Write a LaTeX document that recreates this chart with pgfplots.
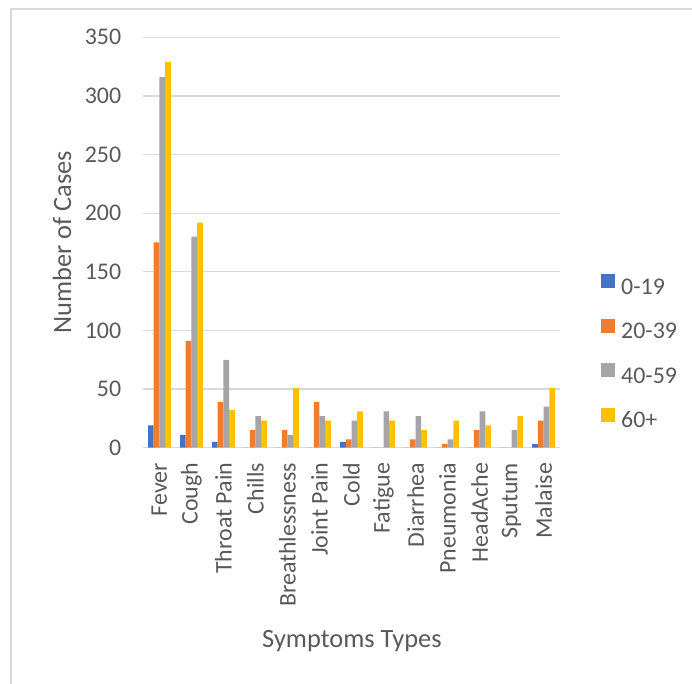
\documentclass[border=0pt]{standalone}
\usepackage{pgfplots}
\pgfplotsset{compat=1.18}
\usepackage{fontspec}
\setmainfont{Carlito}
\definecolor{cBlue}{HTML}{4472C4}
\definecolor{cOrange}{HTML}{ED7D31}
\definecolor{cGray}{HTML}{A5A5A5}
\definecolor{cYellow}{HTML}{FFC000}
\definecolor{gridc}{HTML}{D9D9D9}
\definecolor{txt}{HTML}{595959}
\begin{document}
\begin{tikzpicture}[x=1bp,y=1bp]
\path[use as bounding box] (0,0) rectangle (692,684);
\draw[color=gridc, line width=1.2bp] (11,0) -- (11,675) -- (692,675);
\begin{axis}[
  at={(143.4bp,236.3bp)}, anchor=south west,
  scale only axis, width=416.2bp, height=410.4bp,
  ybar=0pt, bar width=5.7bp,
  xmin=-0.5, xmax=12.5, ymin=0, ymax=350,
  ytick={0,50,...,350},
  xtick={0,...,12},
  xticklabels={Fever,Cough,Throat Pain,Chills,Breathlessness,Joint Pain,Cold,Fatigue,Diarrhea,Pneumonia,HeadAche,Sputum,Malaise},
  /pgf/number format/assume math mode=true,
  axis line style={draw=none},
  major tick length=0pt,
  tick style={draw=none},
  ymajorgrids, grid style={color=gridc, line width=1.3bp},
  yticklabel style={font=\fontsize{24}{28}\selectfont, color=txt, inner sep=0pt, anchor=east},
  yticklabel shift=22bp,
  xticklabel style={font=\fontsize{24}{28}\selectfont, color=txt, rotate=90, anchor=east, inner sep=0pt},
  xticklabel shift=15bp,
  ylabel={Number of Cases},
  xlabel={Symptoms Types},
  every axis y label/.style={at={(axis description cs:-0.1956,0.5)}, rotate=90, anchor=center, font=\fontsize{26.5}{30}\selectfont, color=txt},
  every axis x label/.style={at={(axis description cs:0.501,-0.471)}, anchor=center, font=\fontsize{26.5}{30}\selectfont, color=txt},
  legend style={at={(axis description cs:1.0995,0.2293)}, anchor=west, draw=none, fill=none, inner sep=0pt, font=\fontsize{24}{28}\selectfont, text=txt, row sep=19.8bp, nodes={inner sep=0pt, text height=16bp, text depth=5bp}},
  legend cell align=left,
  legend image code/.code={\fill[#1] (0bp,0.3bp) rectangle (14bp,14.3bp); \path (20bp,0bp);},
]
\addplot[fill=cBlue, draw=none] coordinates {(0,19) (1,11) (2,5) (3,0) (4,0) (5,0) (6,5) (7,0) (8,0) (9,0) (10,0) (11,0) (12,3)};
\addplot[fill=cOrange, draw=none] coordinates {(0,175) (1,91) (2,39) (3,15) (4,15) (5,39) (6,7) (7,0) (8,7) (9,3) (10,15) (11,0) (12,23)};
\addplot[fill=cGray, draw=none] coordinates {(0,316) (1,180) (2,75) (3,27) (4,11) (5,27) (6,23) (7,31) (8,27) (9,7) (10,31) (11,15) (12,35)};
\addplot[fill=cYellow, draw=none] coordinates {(0,329) (1,192) (2,32) (3,23) (4,51) (5,23) (6,31) (7,23) (8,15) (9,23) (10,19) (11,27) (12,51)};
\legend{0-19,20-39,40-59,60+}
\end{axis}
\end{tikzpicture}
\end{document}
